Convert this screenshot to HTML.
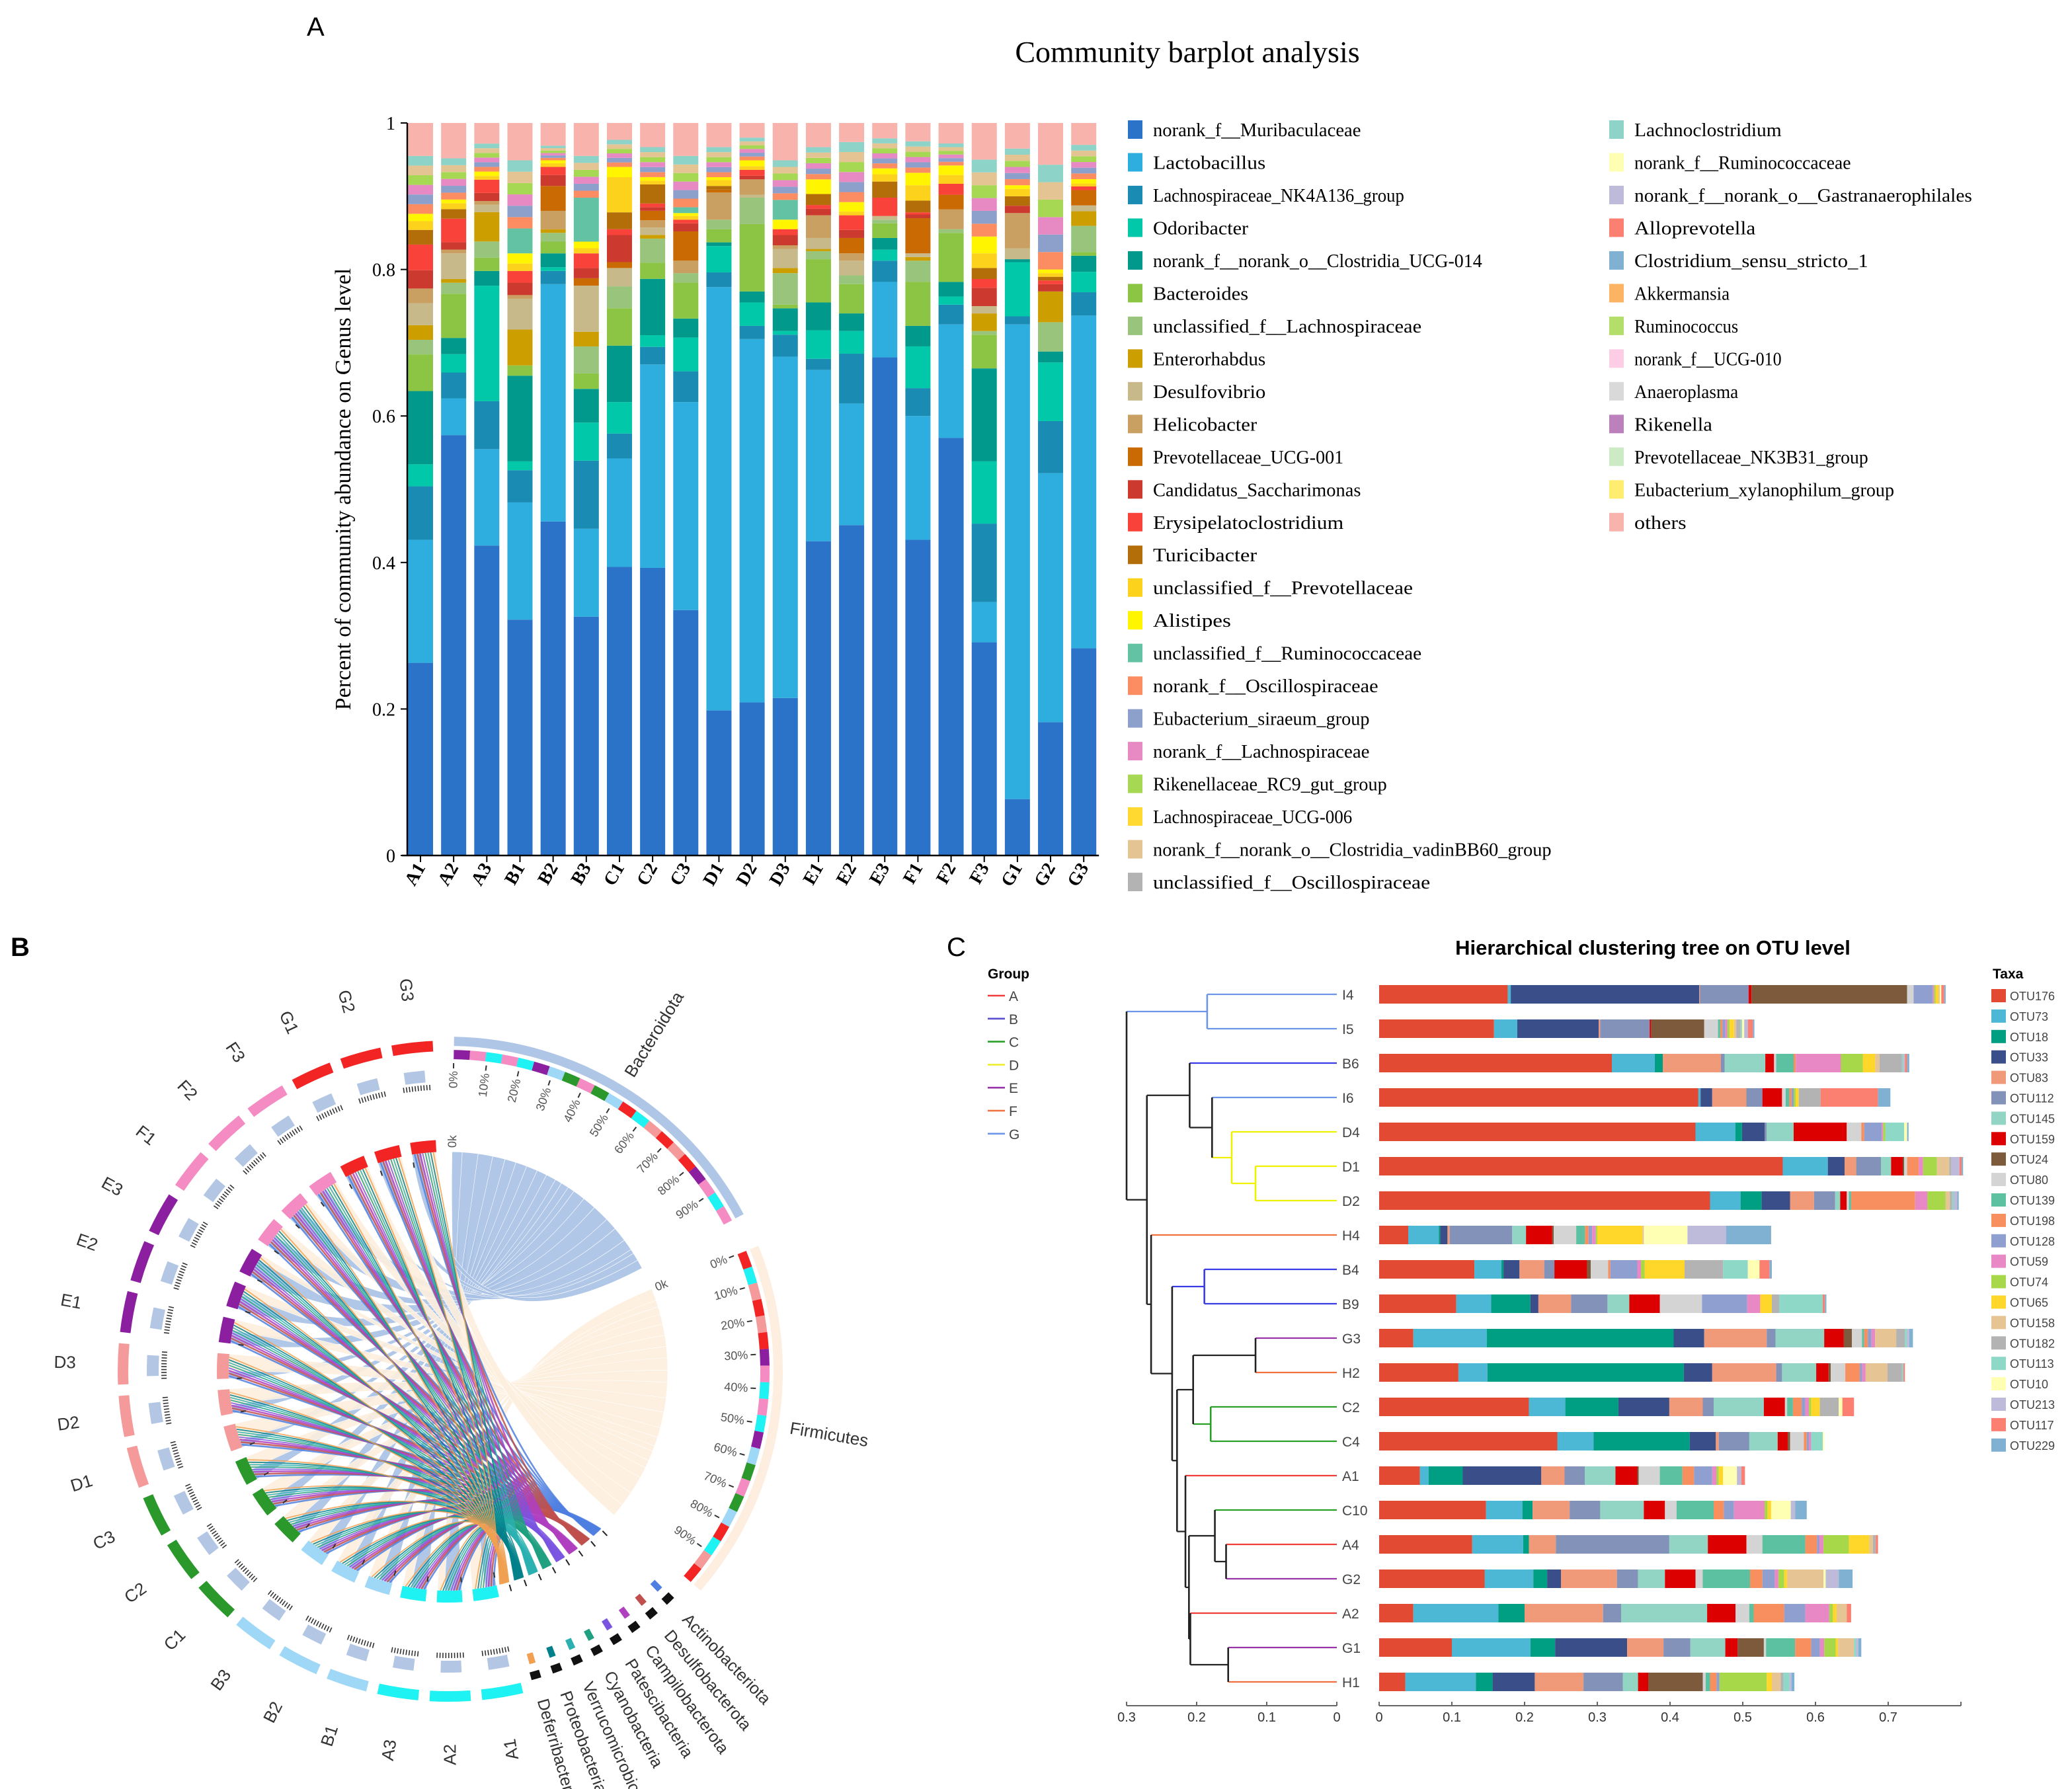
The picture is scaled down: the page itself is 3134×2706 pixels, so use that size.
<!DOCTYPE html>
<html><head><meta charset="utf-8"><style>
html,body{margin:0;padding:0;background:#fff;}
svg{display:block;}
.serif{font-family:"Liberation Serif",serif;}
.sans{font-family:"Liberation Sans",sans-serif;}
</style></head><body>
<svg id="fig" xmlns="http://www.w3.org/2000/svg" width="3134" height="2706" viewBox="0 0 1567 1353">
<rect x="0" y="0" width="1567" height="1353" fill="#fff"/>
<g id="panelA"></g>
<g id="panelB"></g>
<g id="panelC"></g>
</svg>
<script>
// ================= PANEL A DATA =================
const samplesA = ['A1','A2','A3','B1','B2','B3','C1','C2','C3','D1','D2','D3','E1','E2','E3','F1','F2','F3','G1','G2','G3'];
const muri   = [.263,.571,.421,.322,.456,.326,.394,.393,.335,.198,.209,.215,.429,.451,.680,.431,.570,.291,.077,.182,.284];
const lacto  = [.168,.05,.131,.16,.324,.12,.148,.278,.284,.578,.496,.466,.234,.166,.103,.169,.155,.055,.648,.34,.456];
const nk4a   = [.073,.035,.065,.044,.018,.093,.034,.024,.042,.02,.018,.03,.015,.068,.029,.038,.027,.107,.011,.071,.032];
const odori  = [.03,.025,.157,.012,.005,.052,.043,.016,.046,.036,.032,.005,.039,.031,.015,.057,.011,.085,.074,.08,.028];
const clos14 = [.10,.022,.02,.117,.019,.046,.077,.077,.026,.005,.015,.031,.038,.024,.016,.028,.02,.127,.004,.015,.022];
const bactd  = [.05,.06,.018,.014,.016,.021,.051,.022,.049,.018,.092,.005,.059,.04,.02,.06,.067,.046,0,0,.005];
const ulach  = [.02,.015,.022,0,.012,.037,.03,.033,.013,.013,.036,.043,.011,.012,.005,.029,.005,.005,0,.04,.036];
const enter  = [.02,.005,.04,.049,.005,.02,0,.005,0,0,0,.007,.003,0,0,.005,0,.024,0,.042,.02];
const desulf = [.03,.035,.01,.042,0,.063,.025,.01,0,0,.004,.026,.015,.02,.005,.005,0,.01,.015,0,.008];
const helico = [.02,.005,.005,.005,.025,0,0,.01,.017,.037,.021,.005,.031,.01,0,0,.027,0,.048,0,0];
const prevucg= [0,0,0,0,.034,.01,.008,.013,.04,.004,0,0,0,.021,0,.048,.02,0,0,0,.021];
const cand   = [.025,.01,.011,.017,.015,.014,.037,.005,.011,0,.005,.014,.009,.011,0,.005,0,.025,.01,.01,0];
const erys   = [.035,.032,.018,.016,.011,.02,.008,.005,.005,0,.008,.008,.005,.02,.025,.003,.015,.012,0,.005,.005];
const turic  = [.02,.013,0,0,0,0,.023,.026,0,.005,0,0,.015,0,.022,.016,0,.015,.013,.005,0];
const uprev  = [.012,.008,.005,.01,.005,.007,.048,.005,.005,.008,.005,0,0,.005,.01,.021,.012,.02,.01,.005,.004];
const alist  = [.01,.005,.006,.014,.004,.009,.014,.005,.004,.004,.008,.013,.02,.013,.008,.017,.013,.023,.005,.005,.006];
const urum   = [0,0,0,.034,0,.06,0,0,.008,0,0,.027,0,0,0,0,0,0,0,0,0];
const minor  = [.079,.056,.038,.093,.020,.057,.037,.041,.07,.041,.031,.054,.044,.082,.041,.043,.03,.105,.05,.143,.047];
const others = [.045,.048,.028,.051,.031,.045,.023,.033,.045,.033,.02,.051,.033,.026,.021,.025,.028,.05,.035,.057,.03];
const yTicksA = [0,0.2,0.4,0.6,0.8,1];
const yTickLabelsA = ['0','0.2','0.4','0.6','0.8','1'];
const legendA = [
['norank_f__Muribaculaceae','#2b73c9'],['Lactobacillus','#2eaddf'],['Lachnospiraceae_NK4A136_group','#1a8bb3'],
['Odoribacter','#00c8a8'],['norank_f__norank_o__Clostridia_UCG-014','#00998c'],['Bacteroides','#8bc543'],
['unclassified_f__Lachnospiraceae','#99c47c'],['Enterorhabdus','#cc9e00'],['Desulfovibrio','#c8b98a'],
['Helicobacter','#c9a062'],['Prevotellaceae_UCG-001','#c96a02'],['Candidatus_Saccharimonas','#cc3a2f'],
['Erysipelatoclostridium','#f9423a'],['Turicibacter','#b36e0a'],['unclassified_f__Prevotellaceae','#fdd21c'],
['Alistipes','#fff500'],['unclassified_f__Ruminococcaceae','#64c2a4'],['norank_f__Oscillospiraceae','#fc8d62'],
['Eubacterium_siraeum_group','#8da0cb'],['norank_f__Lachnospiraceae','#e78ac3'],['Rikenellaceae_RC9_gut_group','#a6d854'],
['Lachnospiraceae_UCG-006','#ffd92f'],['norank_f__norank_o__Clostridia_vadinBB60_group','#e5c494'],['unclassified_f__Oscillospiraceae','#b3b3b3'],
['Lachnoclostridium','#8dd3c7'],['norank_f__Ruminococcaceae','#ffffb3'],['norank_f__norank_o__Gastranaerophilales','#bebada'],
['Alloprevotella','#fb8072'],['Clostridium_sensu_stricto_1','#80b1d3'],['Akkermansia','#fdb462'],
['Ruminococcus','#b3de69'],['norank_f__UCG-010','#fccde5'],['Anaeroplasma','#d9d9d9'],
['Rikenella','#bc80bd'],['Prevotellaceae_NK3B31_group','#ccebc5'],['Eubacterium_xylanophilum_group','#ffed6f'],['others','#f9b3ad']];

// ================= PANEL B DATA =================
const samplesB = ['A1','A2','A3','B1','B2','B3','C1','C2','C3','D1','D2','D3','E1','E2','E3','F1','F2','F3','G1','G2','G3'];
const bacShare = [.45,.70,.65,.55,.50,.50,.50,.45,.45,.30,.35,.30,.55,.60,.75,.55,.65,.50,.20,.35,.40];
const minorPhyla = ['Actinobacteriota','Desulfobacterota','Campilobacterota','Patescibacteria','Cyanobacteria','Verrucomicrobiota','Proteobacteria','Deferribacterota'];
const pctLabels = ['0%','10%','20%','30%','40%','50%','60%','70%','80%','90%'];

// ================= PANEL C DATA =================
const rowsC = ['I4','I5','B6','I6','D4','D1','D2','H4','B4','B9','G3','H2','C2','C4','A1','C10','A4','G2','A2','G1','H1'];
const otuNames = ['OTU176','OTU73','OTU18','OTU33','OTU83','OTU112','OTU145','OTU159','OTU24','OTU80','OTU139','OTU198','OTU128','OTU59','OTU74','OTU65','OTU158','OTU182','OTU113','OTU10','OTU213','OTU117','OTU229'];
const otuVals = [
[.177,.004,0,.259,.001,.067,0,.004,.214,.009,0,0,.026,.002,.002,.004,.002,0,0,.002,0,.004,.002],
[.158,.032,0,.112,.002,.068,0,.002,.073,.019,.003,.003,.004,.003,.003,.006,.003,.006,.002,.003,.005,.007,.002],
[.32,.059,.011,0,.08,.005,.056,.012,0,.003,.024,.003,0,.062,.03,.017,.006,.031,.002,0,.002,.003,.003],
[.439,.003,0,.016,.047,.022,0,.027,0,.005,.005,.003,.003,0,.003,.004,0,.03,0,0,0,.079,.017],
[.435,.055,.009,.031,0,.003,.037,.073,0,.02,0,.004,.024,.002,.003,0,0,0,.026,.004,0,0,.002],
[.555,.062,0,.023,.016,.034,.014,.016,.002,.004,0,.016,0,.006,.019,0,.017,.003,0,0,.011,.003,.002],
[.455,.042,.029,.039,.033,.029,.007,.009,0,.003,.003,.088,0,.017,.025,0,.006,.003,.002,0,.005,0,.002],
[.04,.042,.002,.01,.003,.086,.019,.036,.002,.031,.012,.005,.005,.005,.002,.062,.002,0,0,.06,.053,0,.062],
[.131,.037,.003,.022,.034,.014,0,.045,.005,.024,0,.003,.037,.005,.005,.055,0,.053,.034,.016,0,.014,.003],
[.106,.048,.054,.011,.045,.05,.03,.042,0,.058,0,0,.062,.018,0,.016,0,.01,.06,0,0,.003,.002],
[.047,.101,.257,.042,.086,.012,.067,.027,.011,.014,.003,.005,.005,.005,0,0,.029,.012,.003,0,.003,0,.005],
[.109,.04,.27,.039,.088,.008,.047,.017,.003,.02,0,.02,.003,.005,0,0,.03,.02,.002,0,0,.002,0],
[.206,.05,.073,.07,.046,.015,.069,.029,0,.003,.008,.012,.005,.005,.003,.012,0,.026,0,.005,0,.016,0],
[.245,.05,.132,.036,.004,.042,.039,.014,.003,.019,0,.004,.003,.003,0,0,0,0,.016,.002,0,0,0],
[.056,.012,.047,.108,.032,.028,.042,.03,.002,.029,.031,.016,.025,.006,.003,.006,0,0,0,.019,.006,.005,0],
[.147,.05,.014,0,.051,.042,.06,.029,0,.016,.051,.014,.014,.042,.004,.005,0,0,0,.027,.006,0,.016],
[.128,.07,.008,0,.037,.156,.053,.053,0,.022,.059,.016,.003,.006,.035,.028,.005,.004,0,0,0,.003,0],
[.145,.067,.019,.019,.077,.029,.037,.042,0,.01,.065,.017,.017,.005,.008,.004,.05,0,0,.003,.018,0,.019],
[.047,.117,.036,0,.108,.025,.118,.039,0,.019,.006,.042,.029,.033,.005,.005,.014,0,0,0,0,.006,0],
[.1,.108,.034,.099,.05,.037,.048,.017,.036,.003,.04,.022,.012,.006,.016,.003,.022,0,.003,0,.003,0,.004],
[.036,.097,.023,.058,.067,.054,.021,.014,.075,.004,.006,.009,.004,0,.065,.007,.012,.004,.008,0,.003,0,.004]];
const xTicksC = [0,0.1,0.2,0.3,0.4,0.5,0.6,0.7];
const treeTicks = [0.3,0.2,0.1,0];
const tree = {h:.3,c:'#222',k:[
  {h:.185,c:'#6e96e8',lc:'#6e96e8',k:['I4','I5']},
  {h:.271,c:'#222',k:[
    {h:.21,c:'#222',k:['B6',{h:.178,c:'#222',k:['I6',{h:.15,c:'#f0f000',lc:'#f0f000',k:['D4',{h:.116,c:'#f0f000',lc:'#f0f000',k:['D1','D2']}]}]}]},
    {h:.265,c:'#222',k:['H4',{h:.235,c:'#222',k:[
      {h:.189,c:'#3b3be6',lc:'#3b3be6',k:['B4','B9']},
      {h:.228,c:'#222',k:[
        {h:.205,c:'#222',k:[{h:.116,c:'#222',k:['G3','H2']},{h:.18,c:'#2aa02a',lc:'#2aa02a',k:['C2','C4']}]},
        {h:.216,c:'#222',k:['A1',{h:.211,c:'#222',k:[
          {h:.174,c:'#222',k:['C10',{h:.158,c:'#222',k:['A4','G2']}]},
          {h:.209,c:'#222',k:['A2',{h:.155,c:'#222',k:['G1','H1']}]}]}]}]}]}]}]}]};

const NS='http://www.w3.org/2000/svg';
function mk(p,tag,a,txt){const e=document.createElementNS(NS,tag);for(const k in a)e.setAttribute(k,a[k]);if(txt!==undefined)e.textContent=txt;p.appendChild(e);return e;}

// ================= PANEL A =================
(function(){
const g=document.getElementById('panelA');
const y0=647, yH=554, x0=308.5, pitch=25.08, bw=19;
const yA=v=>y0-v*yH;
const xA=i=>x0+i*pitch;
let t=mk(g,'text',{x:232,y:27,'font-size':20,class:'sans'},'A');


t=mk(g,'text',{x:898,y:47,'font-size':23,'text-anchor':'middle',class:'serif'},'Community barplot analysis');


t=mk(g,'text',{x:0,y:0,'font-size':17,'text-anchor':'middle',class:'serif',transform:'translate(265,370) rotate(-90)'},'Percent of community abundance on Genus level');


const series=[muri,lacto,nk4a,odori,clos14,bactd,ulach,enter,desulf,helico,prevucg,cand,erys,turic,uprev,alist,urum];
const sCols=['#2b73c9','#2eaddf','#1a8bb3','#00c8a8','#00998c','#8bc543','#99c47c','#cc9e00','#c8b98a','#c9a062','#c96a02','#cc3a2f','#f9423a','#b36e0a','#fdd21c','#fff500','#64c2a4'];
const minorCols=['#fc8d62','#8da0cb','#e78ac3','#a6d854','#e5c494','#8dd3c7'];
samplesA.forEach((s,i)=>{
  let tot=minor[i]+others[i];
  series.forEach(arr=>{tot+=arr[i];});
  let cum=0;
  const bg=mk(g,'g',{});
  
  
  series.forEach((arr,k)=>{
    const v=arr[i]/tot; if(v<=0)return;
    const r=mk(bg,'rect',{x:xA(i),y:yA(cum+v),width:bw,height:v*yH,fill:sCols[k]});
    
    
    cum+=v;
  });
  const mv=minor[i]/tot, n=minorCols.length;
  for(let j=0;j<n;j++){
    const r=mk(bg,'rect',{x:xA(i),y:yA(cum+mv/n*(j+1)),width:bw,height:mv/n*yH,fill:minorCols[j]});
    
    
  }
  cum+=mv;
  const ov=others[i]/tot;
  const ro=mk(bg,'rect',{x:xA(i),y:yA(cum+ov),width:bw,height:ov*yH,fill:'#f9b3ad'});
  
  
  const tk=mk(g,'line',{x1:xA(i)+bw/2,x2:xA(i)+bw/2,y1:y0,y2:y0+5,stroke:'#000','stroke-width':1});
  
  
  const lb=mk(g,'text',{x:0,y:0,'font-size':14,'font-weight':'bold','text-anchor':'end',class:'serif',transform:`translate(${xA(i)+bw/2+4},${y0+9}) rotate(-60)`},s);
  
  
});
let ax=mk(g,'line',{x1:308,x2:308,y1:yA(1),y2:y0,stroke:'#000','stroke-width':1.2});


ax=mk(g,'line',{x1:304,x2:xA(20)+bw+2,y1:y0,y2:y0,stroke:'#000','stroke-width':1.2});


yTicksA.forEach((v,k)=>{
  const l=mk(g,'line',{x1:303,x2:308,y1:yA(v),y2:yA(v),stroke:'#000'});
  
  
  const tt=mk(g,'text',{x:299,y:yA(v)+5,'font-size':14,'text-anchor':'end',class:'serif'},yTickLabelsA[k]);
  
  
});
legendA.forEach((e,k)=>{
  const col=k<24?0:1, row=k<24?k:k-24;
  const sx=col?1217:853, ty=98+row*24.74;
  const lg=mk(g,'g',{});
  
  
  const r=mk(lg,'rect',{x:sx,y:ty-7,width:11,height:14,fill:e[1]});
  
  
  const tt=mk(lg,'text',{x:sx+19,y:ty+5,'font-size':14,class:'serif',textLength:e[0].length*6.55,lengthAdjust:'spacingAndGlyphs'},e[0]);
  
  
});
})();

// ================= PANEL B =================
(function(){
const g=document.getElementById('panelB');
const cx=339, cy=1037;
const P=(r,a)=>{const t=a*Math.PI/180;return [cx+r*Math.sin(t),cy-r*Math.cos(t)];};
const arc=(r1,r2,a1,a2)=>{const p1=P(r2,a1),p2=P(r2,a2),p3=P(r1,a2),p4=P(r1,a1);const lf=(a2-a1)>180?1:0;
 return `M${p1[0]},${p1[1]}A${r2},${r2} 0 ${lf} 1 ${p2[0]},${p2[1]}L${p3[0]},${p3[1]}A${r1},${r1} 0 ${lf} 0 ${p4[0]},${p4[1]}Z`;};
let t=mk(g,'text',{x:8,y:723,'font-size':20,'font-weight':'bold',class:'sans'},'B');


const grpCol={A:'#1ef2f2',B:'#9fd8f7',C:'#2a982a',D:'#f59a9a',E:'#8b1fa0',F:'#f48bc2',G:'#f22424'};
const sAng=i=>170.5+i*9.16;
const R=166;
const bTot=bacShare.reduce((a,b)=>a+b,0), fTot=bacShare.reduce((a,b)=>a+(1-b),0);
const bA1=1,bA2=62,fA1=68,fA2=131;
let bc=bA1, fc=fA1;
const ribbons=mk(g,'g',{});


samplesB.forEach((s,i)=>{
  const a=sAng(i), s0=a-3.2, s1=a+3.2, sm=s0+6.4*bacShare[i];
  const bw=(bA2-bA1)*bacShare[i]/bTot, fw=(fA2-fA1)*(1-bacShare[i])/fTot;
  const rib=(a1,a2,t1,t2,col,op)=>{
    const p1=P(R,a1),p2=P(R,a2),q1=P(R,t1),q2=P(R,t2);
    const d=`M${p1[0]},${p1[1]}A${R},${R} 0 0 1 ${p2[0]},${p2[1]}Q${cx},${cy} ${q1[0]},${q1[1]}A${R},${R} 0 0 1 ${q2[0]},${q2[1]}Q${cx},${cy} ${p1[0]},${p1[1]}Z`;
    const e=mk(ribbons,'path',{d,fill:col,'fill-opacity':op,stroke:'#fff','stroke-width':0.3});
    
    
  };
  rib(s0,sm,bc,bc+bw,'#a9c1e4',0.9);
  rib(sm,s1,fc,fc+fw,'#fdeedd',0.9);
  bc+=bw; fc+=fw;
});
const phyCols=['#4f7fe0','#c0504d','#b040c0','#7a55e0','#20a080','#2ab0b0','#00808a','#f0a050'];
const phyAng=k=>136+k*4;
const lineG=mk(g,'g',{});


samplesB.forEach((s,i)=>{
  minorPhyla.forEach((ph,k)=>{
    const p=P(R,sAng(i)-2.5+k*0.7), q=P(R,phyAng(k)+i*0.12);
    const e=mk(lineG,'path',{d:`M${p[0]},${p[1]}Q${cx+35},${cy+70} ${q[0]},${q[1]}`,fill:'none',stroke:phyCols[k],'stroke-width':k<3?1.3:0.9,'stroke-opacity':0.85});
    
    
  });
});
samplesB.forEach((s,i)=>{
  const a=sAng(i), c=grpCol[s[0]];
  let e=mk(g,'path',{d:arc(166,175,a-3.2,a+3.2),fill:c});
  
  
  e=mk(g,'path',{d:arc(242,250,a-3.6,a+3.6),fill:c});
  
  
  e=mk(g,'path',{d:arc(219,228,a-2.2,a+1.8),fill:'#b3c7e5'});
  
  
  const p1=P(215,a-2.8),p2=P(215,a+2.8);
  e=mk(g,'path',{d:`M${p1[0]},${p1[1]}A215,215 0 0 1 ${p2[0]},${p2[1]}`,fill:'none',stroke:'#333','stroke-width':4,'stroke-dasharray':'0.8 1.4'});
  
  
  const tp=P(160,a-3.2);
  const tq=P(156,a-3.2);
  e=mk(g,'line',{x1:tp[0],y1:tp[1],x2:tq[0],y2:tq[1],stroke:'#333','stroke-width':1});
  
  
  const lp=P(290,a);
  e=mk(g,'text',{x:0,y:0,'font-size':13,'text-anchor':'middle',fill:'#333',class:'sans',transform:`translate(${lp[0]},${lp[1]}) rotate(${a-270})`,dy:4},s);
  
  
});
const phyArc=(name,a1,a2,band)=>{
  let e=mk(g,'path',{d:arc(246,253,a1,a2),fill:band});
  
  
  const cols=['#8b1fa0','#f48bc2','#1ef2f2','#f48bc2','#1ef2f2','#8b1fa0','#9fd8f7','#2a982a','#f48bc2','#2a982a','#9fd8f7','#f22424','#1ef2f2','#f59a9a','#f22424','#f59a9a','#f22424'];
  const n=samplesB.length;
  for(let k=0;k<n;k++){
    const b1=a1+(a2-a1)*k/n,b2=a1+(a2-a1)*(k+1)/n;
    e=mk(g,'path',{d:arc(236,243,b1,b2),fill:cols[(k+(name==='Firmicutes'?11:0))%cols.length]});
    
    
  }
  pctLabels.forEach((pl,k)=>{
    const a=a1+(a2-a1)*k/10;
    const q1=P(229,a),q2=P(233,a);
    let l=mk(g,'line',{x1:q1[0],y1:q1[1],x2:q2[0],y2:q2[1],stroke:'#333','stroke-width':1});
    
    
    const tp=P(227,a);
    l=mk(g,'text',{x:0,y:0,'font-size':9,'text-anchor':'end',fill:'#555',class:'sans',transform:`translate(${tp[0]},${tp[1]}) rotate(${a-90})`,dy:3},pl);
    
    
  });
  const ok=P(169,a1);
  e=mk(g,'text',{x:0,y:0,'font-size':9,'text-anchor':'start',fill:'#555',class:'sans',transform:`translate(${ok[0]},${ok[1]}) rotate(${a1-90})`,dy:3},'0k');
  
  
  const lp=P(262,(a1+a2)/2);
  e=mk(g,'text',{x:0,y:0,'font-size':13,fill:'#333',class:'sans',transform:`translate(${lp[0]},${lp[1]}) rotate(${(a1+a2)/2-90})`,dy:4},name);
  
  
};
phyArc('Bacteroidota',bA1,bA2,'#afc6e6');
phyArc('Firmicutes',fA1,fA2,'#fdeedf');
minorPhyla.forEach((ph,k)=>{
  const a=phyAng(k);
  let e=mk(g,'path',{d:arc(236,242,a-0.9,a+0.9),fill:'#111'});
  
  
  e=mk(g,'path',{d:arc(222,230,a-0.7,a+0.5),fill:phyCols[k]});
  
  
  const q1=P(168,a),q2=P(173,a);
  e=mk(g,'line',{x1:q1[0],y1:q1[1],x2:q2[0],y2:q2[1],stroke:'#222','stroke-width':1});
  
  
  const lp=P(258,a);
  e=mk(g,'text',{x:0,y:0,'font-size':12.5,fill:'#333',class:'sans',transform:`translate(${lp[0]},${lp[1]}) rotate(${a-90})`,dy:4},ph);
  
  
});
})();

// ================= PANEL C =================
(function(){
const g=document.getElementById('panelC');
const rowY=i=>752+i*26;
const xb=v=>1043+v*550;
const xt=h=>1011-h*530;
let t=mk(g,'text',{x:716,y:723,'font-size':20,class:'sans'},'C');


t=mk(g,'text',{x:1250,y:722,'font-size':15.5,'font-weight':'bold','text-anchor':'middle',class:'sans'},'Hierarchical clustering tree on OTU level');


t=mk(g,'text',{x:747,y:740,'font-size':10.5,'font-weight':'bold',class:'sans'},'Group');


const gl=[['A','#f03c3c'],['B','#5a4fcf'],['C','#2aa02a'],['D','#eeee30'],['E','#9933aa'],['F','#f07040'],['G','#6e96e8']];
gl.forEach((e,k)=>{
  const y=753+k*17.4;
  let l=mk(g,'line',{x1:747,x2:760,y1:y,y2:y,stroke:e[1],'stroke-width':1.3});
  
  
  l=mk(g,'text',{x:763,y:y+4,'font-size':10.5,fill:'#444',class:'sans'},e[0]);
  
  
});
const leafCol={I:'#6e96e8',B:'#3b3be6',D:'#eeee20',H:'#f07040',G:'#9933aa',C:'#2aa02a',A:'#f03c3c'};
function draw(node){
  if(typeof node==='string'){return {y:rowY(rowsC.indexOf(node)),x:xt(0),c:leafCol[node[0]],leaf:node};}
  const ch=node.k.map(draw);
  const x=xt(node.h);
  ch.forEach(c=>{
    const col=c.leaf?c.c:(c.lc||'#222');
    const l=mk(g,'line',{x1:x,x2:c.x,y1:c.y,y2:c.y,stroke:node.lc||col,'stroke-width':1.1});
    
    
  });
  const ys=ch.map(c=>c.y);
  const v=mk(g,'line',{x1:x,x2:x,y1:Math.min(...ys),y2:Math.max(...ys),stroke:node.lc||'#222','stroke-width':1.3});
  
  
  return {y:(Math.min(...ys)+Math.max(...ys))/2,x,lc:node.lc};
}
draw(tree);
let ax=mk(g,'line',{x1:xt(0.3),x2:xt(0),y1:1290,y2:1290,stroke:'#666'});


treeTicks.forEach(v=>{
  let l=mk(g,'line',{x1:xt(v),x2:xt(v),y1:1287,y2:1290,stroke:'#666'});
  
  
  l=mk(g,'text',{x:xt(v),y:1302,'font-size':10,'text-anchor':'middle',fill:'#333',class:'sans'},String(v));
  
  
});
const otuCols=['#e34a33','#4cb8d6','#009e82','#3a4f8a','#f19a7a','#8392b8','#93d5c5','#dd0000','#7d5a3c','#d4d4d4','#5cc1a0','#f88f5e','#8fa0d0','#e889c6','#a7d84a','#ffd72a','#e6c494','#b3b3b3','#8ed8c8','#ffffb3','#bebada','#fb8072','#80b1d3'];
rowsC.forEach((r,i)=>{
  const y=rowY(i);
  let l=mk(g,'text',{x:1015,y:y+4,'font-size':10.5,fill:'#444',class:'sans'},r);
  
  
  const bg=mk(g,'g',{});
  
  
  let cum=0;
  otuVals[i].forEach((v,k)=>{
    if(v<=0)return;
    const e=mk(bg,'rect',{x:xb(cum),y:y-7,width:v*550,height:14,fill:otuCols[k]});
    
    
    cum+=v;
  });
});
ax=mk(g,'line',{x1:xb(0),x2:xb(0.8),y1:1290,y2:1290,stroke:'#666'});


xTicksC.concat([0.8]).forEach(v=>{
  let l=mk(g,'line',{x1:xb(v),x2:xb(v),y1:1287,y2:1290,stroke:'#666'});
  
  
});
xTicksC.forEach(v=>{
  const l=mk(g,'text',{x:xb(v),y:1302,'font-size':10,'text-anchor':'middle',fill:'#333',class:'sans'},String(v));
  
  
});
t=mk(g,'text',{x:1507,y:740,'font-size':10.5,'font-weight':'bold',class:'sans'},'Taxa');


otuNames.forEach((n,k)=>{
  const y=753+k*15.45;
  let e=mk(g,'rect',{x:1506,y:y-5,width:11,height:10,fill:otuCols[k]});
  
  
  e=mk(g,'text',{x:1520,y:y+3.5,'font-size':9,fill:'#444',class:'sans'},n);
  
  
});
})();
</script>
</body></html>
